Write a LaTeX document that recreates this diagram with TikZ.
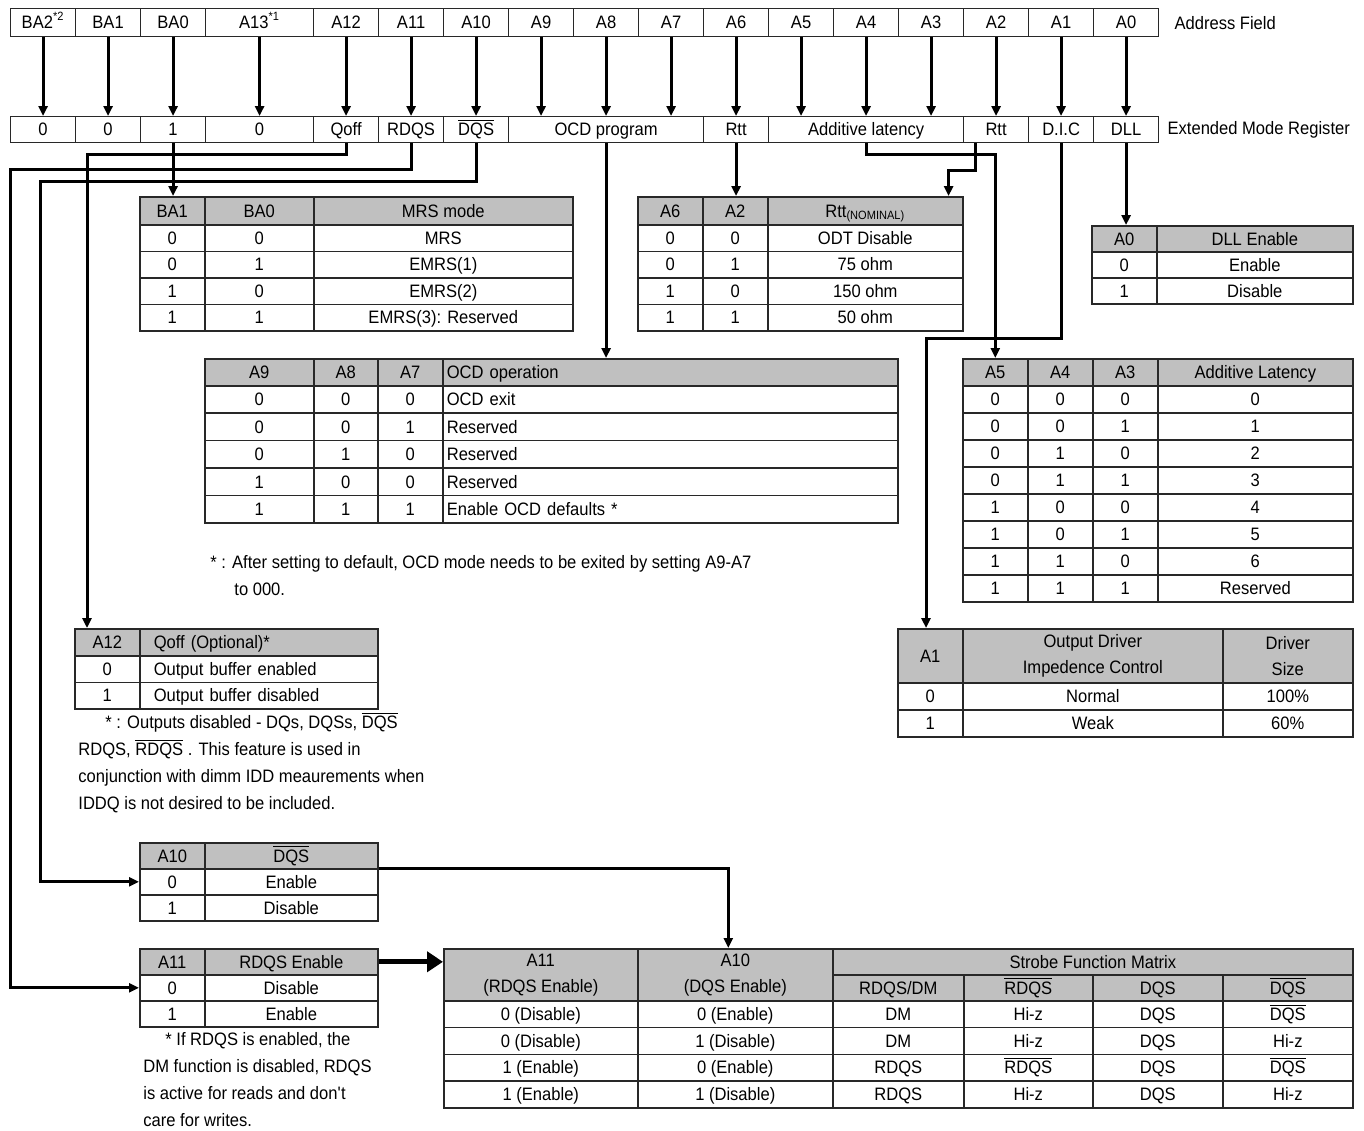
\documentclass[tikz,border=0pt]{standalone}
\usepackage{fontspec}
\setmainfont{Liberation Sans}[FakeStretch=0.92]
\usetikzlibrary{arrows.meta, positioning}
\definecolor{headgray}{RGB}{192,192,192}
\definecolor{tabline}{RGB}{40,40,40}
\newcommand{\nbar}[1]{\ensuremath{\overline{\mbox{#1}}}}
\tikzset{
    field/.style={
        draw=tabline,
        line width=0.6pt,
        anchor=north west,
        inner sep=0pt,
        minimum width=#1*0.5pt,
        minimum height=14pt,
        text height=7.6pt,
        text depth=1.9pt,
        font=\fontsize{9}{11}\selectfont
    },
    cell/.style={
        draw=tabline,
        line width=0.8pt,
        anchor=north west,
        inner sep=0pt,
        minimum width=#1*0.5pt,
        text height=8.2pt,
        text depth=1.9pt,
        align=center,
        font=\fontsize{9}{13}\selectfont
    },
    hcell/.style={cell=#1, fill=headgray},
    twoline/.style={text height=, text depth=},
    rowh/.style={minimum height=#1*0.5pt},
    lefttext/.style 2 args={text width=#1, inner xsep=#2, align=left},
    wire/.style={
        -{Triangle[length=5pt, width=4.5pt]},
        line width=1.5pt
    },
    bigwire/.style={
        -{Triangle[length=8pt, width=10pt]},
        line width=2.5pt
    },
    sidelabel/.style={inner sep=0pt, font=\fontsize{9}{11}\selectfont},
    note/.style={
        anchor=north west,
        align=left,
        inner sep=0pt,
        font=\fontsize{9}{13.5}\selectfont
    }
}
\begin{document}
\begin{tikzpicture}[x=0.5pt, y=-0.5pt]
    \useasboundingbox (0,0) rectangle (1364,1130);

    % Address field
    \node[field=65]  (f-ba2) at (10,8)  {BA2\textsuperscript{*2}};
    \node[field=65]  (f-ba1) at (75,8)  {BA1};
    \node[field=65]  (f-ba0) at (140,8) {BA0};
    \node[field=108] (f-a13) at (205,8) {A13\textsuperscript{*1}};
    \foreach \k in {12,11,...,0}
        \node[field=65] (f-a\k) at (313+65*12-65*\k,8) {A\k};
    \node[sidelabel, right=7.5pt of f-a0] (lab-addr) {Address Field};

    % Extended mode register
    \node[field=65, rowh=26]  (r-ba2)  at (10,116)   {0};
    \node[field=65, rowh=26]  (r-ba1)  at (75,116)   {0};
    \node[field=65, rowh=26]  (r-ba0)  at (140,116)  {1};
    \node[field=108, rowh=26] (r-a13)  at (205,116)  {0};
    \node[field=65, rowh=26]  (r-qoff) at (313,116)  {Qoff};
    \node[field=65, rowh=26]  (r-rdqs) at (378,116)  {RDQS};
    \node[field=65, rowh=26]  (r-dqs)  at (443,116)  {\nbar{DQS}};
    \node[field=195, rowh=26] (r-ocd)  at (508,116)  {OCD program};
    \node[field=65, rowh=26]  (r-rtt1) at (703,116)  {Rtt};
    \node[field=195, rowh=26] (r-al)   at (768,116)  {Additive latency};
    \node[field=65, rowh=26]  (r-rtt2) at (963,116)  {Rtt};
    \node[field=65, rowh=26]  (r-dic)  at (1028,116) {D.I.C};
    \node[field=65, rowh=26]  (r-dll)  at (1093,116) {DLL};
    \node[sidelabel, right=4pt of r-dll] (lab-emr) {Extended Mode Register};

    % MRS mode table
    \node[hcell=65, rowh=28]  (mrs-h1) at (139,196) {BA1};
    \node[hcell=109, rowh=28] (mrs-h2) at (204,196) {BA0};
    \node[hcell=259, rowh=28] (mrs-h3) at (313,196) {MRS mode};
    \foreach \va/\vb/\vc [count=\i from 0] in {0/0/MRS, 0/1/EMRS(1), 1/0/EMRS(2), 1/1/{EMRS(3): Reserved}} {
        \node[cell=65, rowh=26.5]  (mrs-\i-1) at (139,224+26.5*\i) {\va};
        \node[cell=109, rowh=26.5] (mrs-\i-2) at (204,224+26.5*\i) {\vb};
        \node[cell=259, rowh=26.5] (mrs-\i-3) at (313,224+26.5*\i) {\vc};
    }

    % Rtt table
    \node[hcell=65, rowh=28]  (rtt-h1) at (637,196) {A6};
    \node[hcell=65, rowh=28]  (rtt-h2) at (702,196) {A2};
    \node[hcell=195, rowh=28] (rtt-h3) at (767,196) {Rtt\textsubscript{(NOMINAL)}};
    \foreach \va/\vb/\vc [count=\i from 0] in {0/0/ODT Disable, 0/1/75 ohm, 1/0/150 ohm, 1/1/50 ohm} {
        \node[cell=65, rowh=26.5]  (rtt-\i-1) at (637,224+26.5*\i) {\va};
        \node[cell=65, rowh=26.5]  (rtt-\i-2) at (702,224+26.5*\i) {\vb};
        \node[cell=195, rowh=26.5] (rtt-\i-3) at (767,224+26.5*\i) {\vc};
    }

    % DLL table
    \node[hcell=65, rowh=26]  (dll-h1) at (1091,225) {A0};
    \node[hcell=196, rowh=26] (dll-h2) at (1156,225) {DLL Enable};
    \foreach \va/\vb [count=\i from 0] in {0/Enable, 1/Disable} {
        \node[cell=65, rowh=26]  (dll-\i-1) at (1091,251+26*\i) {\va};
        \node[cell=196, rowh=26] (dll-\i-2) at (1156,251+26*\i) {\vb};
    }

    % OCD table
    \node[hcell=109, rowh=27] (ocd-h1) at (204,358) {A9};
    \node[hcell=64, rowh=27]  (ocd-h2) at (313,358) {A8};
    \node[hcell=65, rowh=27]  (ocd-h3) at (377,358) {A7};
    \node[hcell=455, rowh=27, lefttext={223.5pt}{2pt}] (ocd-h4) at (442,358) {OCD operation};
    \foreach \va/\vb/\vc/\vd [count=\i from 0] in {0/0/0/OCD exit, 0/0/1/Reserved, 0/1/0/Reserved, 1/0/0/Reserved, 1/1/1/Enable OCD defaults *} {
        \node[cell=109, rowh=27.4] (ocd-\i-1) at (204,385+27.4*\i) {\va};
        \node[cell=64, rowh=27.4]  (ocd-\i-2) at (313,385+27.4*\i) {\vb};
        \node[cell=65, rowh=27.4]  (ocd-\i-3) at (377,385+27.4*\i) {\vc};
        \node[cell=455, rowh=27.4, lefttext={223.5pt}{2pt}] (ocd-\i-4) at (442,385+27.4*\i) {\vd};
    }
    \node[note] (ocd-note) at (210,555) {* : After setting to default, OCD mode needs to be exited by setting A9-A7\\\hspace*{12pt}to 000.};

    % Additive latency table
    \node[hcell=65, rowh=27]  (al-h1) at (962,358)  {A5};
    \node[hcell=65, rowh=27]  (al-h2) at (1027,358) {A4};
    \node[hcell=65, rowh=27]  (al-h3) at (1092,358) {A3};
    \node[hcell=195, rowh=27] (al-h4) at (1157,358) {Additive Latency};
    \foreach \va/\vb/\vc/\vd [count=\i from 0] in {0/0/0/0, 0/0/1/1, 0/1/0/2, 0/1/1/3, 1/0/0/4, 1/0/1/5, 1/1/0/6, 1/1/1/Reserved} {
        \node[cell=65, rowh=27]  (al-\i-1) at (962,385+27*\i)  {\va};
        \node[cell=65, rowh=27]  (al-\i-2) at (1027,385+27*\i) {\vb};
        \node[cell=65, rowh=27]  (al-\i-3) at (1092,385+27*\i) {\vc};
        \node[cell=195, rowh=27] (al-\i-4) at (1157,385+27*\i) {\vd};
    }

    % Output driver impedance table
    \node[hcell=65, rowh=54]  (dic-h1) at (897,628)  {A1};
    \node[hcell=260, rowh=54, twoline] (dic-h2) at (962,628)  {Output Driver\\Impedence Control};
    \node[hcell=130, rowh=54, twoline] (dic-h3) at (1222,628) {Driver\\Size};
    \foreach \va/\vb/\vc [count=\i from 0] in {0/Normal/100\%, 1/Weak/60\%} {
        \node[cell=65, rowh=27]  (dic-\i-1) at (897,682+27*\i)  {\va};
        \node[cell=260, rowh=27] (dic-\i-2) at (962,682+27*\i)  {\vb};
        \node[cell=130, rowh=27] (dic-\i-3) at (1222,682+27*\i) {\vc};
    }

    % Qoff table
    \node[hcell=65, rowh=27] (qoff-h1) at (74,628) {A12};
    \node[hcell=238, rowh=27, lefttext={105pt}{7pt}] (qoff-h2) at (139,628) {Qoff (Optional)*};
    \foreach \va/\vb [count=\i from 0] in {0/Output buffer enabled, 1/Output buffer disabled} {
        \node[cell=65, rowh=26.5] (qoff-\i-1) at (74,655+26.5*\i) {\va};
        \node[cell=238, rowh=26.5, lefttext={105pt}{7pt}] (qoff-\i-2) at (139,655+26.5*\i) {\vb};
    }
    \node[note] (qoff-note) at (78,712) {\hspace*{13.5pt}* : Outputs disabled - DQs, DQSs, \nbar{DQS}\\RDQS, \nbar{RDQS} . This feature is used in\\conjunction with dimm IDD meaurements when\\IDDQ is not desired to be included.};

    % DQS table
    \node[hcell=65, rowh=26]  (a10-h1) at (139,842) {A10};
    \node[hcell=173, rowh=26] (a10-h2) at (204,842) {\nbar{DQS}};
    \foreach \va/\vb [count=\i from 0] in {0/Enable, 1/Disable} {
        \node[cell=65, rowh=26]  (a10-\i-1) at (139,868+26*\i) {\va};
        \node[cell=173, rowh=26] (a10-\i-2) at (204,868+26*\i) {\vb};
    }

    % RDQS table
    \node[hcell=65, rowh=26]  (a11-h1) at (139,948) {A11};
    \node[hcell=173, rowh=26] (a11-h2) at (204,948) {RDQS Enable};
    \foreach \va/\vb [count=\i from 0] in {0/Disable, 1/Enable} {
        \node[cell=65, rowh=26]  (a11-\i-1) at (139,974+26*\i) {\va};
        \node[cell=173, rowh=26] (a11-\i-2) at (204,974+26*\i) {\vb};
    }
    \node[note] (rdqs-note) at (143,1032) {\hspace*{11pt}* If RDQS is enabled, the\\DM function is disabled, RDQS\\is active for reads and don\textquotesingle t\\care for writes.};

    % Strobe function matrix
    \node[hcell=194, rowh=52, twoline] (st-h1) at (443,948)  {A11\\(RDQS Enable)};
    \node[hcell=195, rowh=52, twoline] (st-h2) at (637,948)  {A10\\(DQS Enable)};
    \node[hcell=520, rowh=26] (st-h3) at (832,948)  {Strobe Function Matrix};
    \node[hcell=131, rowh=26] (st-s1) at (832,974)  {RDQS/DM};
    \node[hcell=129, rowh=26] (st-s2) at (963,974)  {\nbar{RDQS}};
    \node[hcell=130, rowh=26] (st-s3) at (1092,974) {DQS};
    \node[hcell=130, rowh=26] (st-s4) at (1222,974) {\nbar{DQS}};
    \foreach \va/\vb/\vc/\vd/\ve/\vf [count=\i from 0] in {
        0 (Disable)/0 (Enable)/DM/Hi-z/DQS/\nbar{DQS},
        0 (Disable)/1 (Disable)/DM/Hi-z/DQS/Hi-z,
        1 (Enable)/0 (Enable)/RDQS/\nbar{RDQS}/DQS/\nbar{DQS},
        1 (Enable)/1 (Disable)/RDQS/Hi-z/DQS/Hi-z} {
        \node[cell=194, rowh=26.75] (st-\i-1) at (443,1000+26.75*\i)  {\va};
        \node[cell=195, rowh=26.75] (st-\i-2) at (637,1000+26.75*\i)  {\vb};
        \node[cell=131, rowh=26.75] (st-\i-3) at (832,1000+26.75*\i)  {\vc};
        \node[cell=129, rowh=26.75] (st-\i-4) at (963,1000+26.75*\i)  {\vd};
        \node[cell=130, rowh=26.75] (st-\i-5) at (1092,1000+26.75*\i) {\ve};
        \node[cell=130, rowh=26.75] (st-\i-6) at (1222,1000+26.75*\i) {\vf};
    }

    % Address bits into the register
    \foreach \n in {ba2,ba1,ba0,a13,a12,a11,a10,a9,a8,a7,a6,a5,a4,a3,a2,a1,a0}
        \draw[wire] (f-\n.south) -- (f-\n.south |- r-dll.north);

    % Register fields to their tables
    \coordinate (dqs-x) at ([xshift=15pt]r-ba2.west);
    \draw[wire] (r-ba0.south) -- (r-ba0.south |- mrs-h1.north);
    \draw[wire] (r-qoff.south) -- ++(0,11) -| ([xshift=6.5pt]qoff-h1.north west);
    \draw[wire] (r-rdqs.south) -- ++(0,26) -| (r-ba2.west |- a11-0-1.west) -- (a11-0-1.west);
    \draw[wire] (r-dqs.south) -- ++(0,38) -| (dqs-x |- a10-0-1.west) -- (a10-0-1.west);
    \draw[wire] (r-ocd.south) -- (r-ocd.south |- ocd-h4.north);
    \draw[wire] (r-rtt1.south) -- (r-rtt1.south |- rtt-h2.north);
    \draw[wire] (r-al.south) -- ++(0,11) -| (al-h1.north);
    \draw[wire] ([xshift=-10.5pt]r-rtt2.south) -- ++(0,27) -| ([xshift=-7.5pt]rtt-h3.north east);
    \draw[wire] (r-dic.south) -- ++(0,195) -| ([xshift=14.5pt]dic-h1.north west);
    \draw[wire] (r-dll.south) -- (r-dll.south |- dll-h1.north);

    % Into the strobe matrix
    \draw[wire] (a10-0-2.north east) -| ([xshift=-3.5pt]st-h2.north);
    \draw[bigwire] (a11-h2.east) -- (a11-h2.east -| st-h1.west);
\end{tikzpicture}
\end{document}
